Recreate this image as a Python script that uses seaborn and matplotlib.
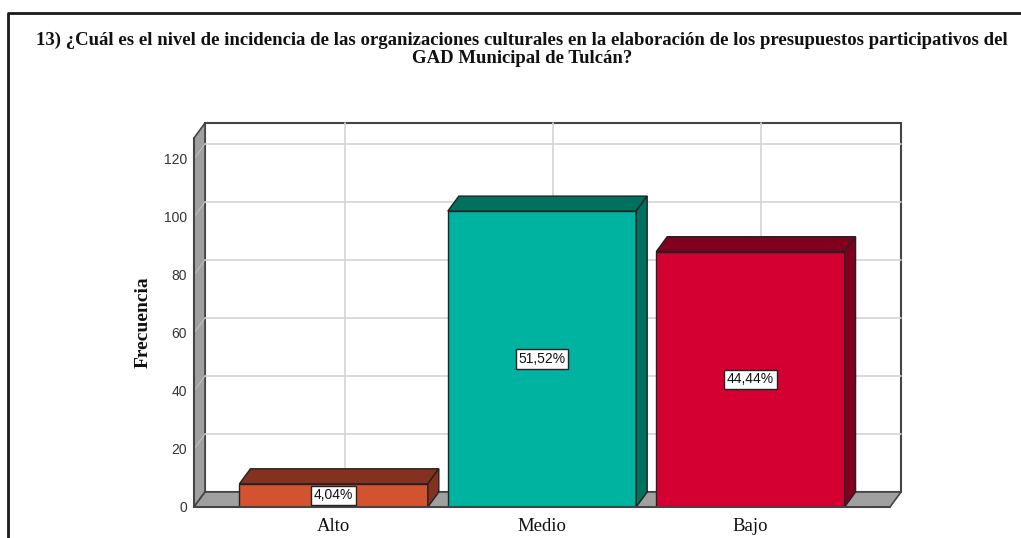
import matplotlib
matplotlib.use('Agg')
import matplotlib.pyplot as plt
import seaborn as sns
from matplotlib.patches import Polygon, Rectangle
from matplotlib.lines import Line2D

categorias = ['Alto', 'Medio', 'Bajo']
frecuencias = [8, 102, 88]
porcentajes = ['4,04%', '51,52%', '44,44%']
y_ticks = [0, 20, 40, 60, 80, 100, 120]

color_frente = ['#D35230', '#00B2A0', '#D50032']
color_techo = ['#843121', '#00705F', '#82001F']
titulo = ('13) ¿Cuál es el nivel de incidencia de las organizaciones culturales en la elaboración '
          'de los presupuestos participativos del\nGAD Municipal de Tulcán?')

sns.set_theme(style='white')
W, H = 1021, 538
fig = plt.figure(figsize=(W / 100, H / 100), dpi=100)
fig.patch.set_facecolor('white')

# front plane of the 3D box, in pixels: x 194..890, y 138..507
ax = fig.add_axes([194 / W, (H - 507) / H, 696 / W, 369 / H])
xmin, xmax = -0.67, 2.67
ymin, ymax = 0, 127.2
dx = 11 * (xmax - xmin) / 696
dy = 15 * (ymax - ymin) / 369

edge = '#444444'
gris = '#A0A0A0'

sns.barplot(x=categorias, y=frecuencias, hue=categorias, palette=color_frente, saturation=1,
            width=0.904, edgecolor='#222222', linewidth=1, legend=False, ax=ax, zorder=3)
barras = list(ax.patches)
ax.set_xlim(xmin, xmax)
ax.set_ylim(ymin, ymax)

# back wall, left wall, floor
ax.add_patch(Rectangle((xmin + dx, dy), xmax - xmin, ymax, facecolor='white',
                       edgecolor=edge, lw=1.5, clip_on=False, zorder=0.5))
ax.add_patch(Polygon([(xmin, 0), (xmin + dx, dy), (xmin + dx, ymax + dy), (xmin, ymax)],
                     closed=True, facecolor=gris, edgecolor=edge, lw=1.2, clip_on=False, zorder=0.6))
ax.add_patch(Polygon([(xmin, 0), (xmax, 0), (xmax + dx, dy), (xmin + dx, dy)],
                     closed=True, facecolor=gris, edgecolor=edge, lw=1.2, clip_on=False, zorder=0.6))

for t in y_ticks[1:]:
    ax.plot([xmin + dx, xmax + dx], [t + dy, t + dy], color='#D4D4D4', lw=1.2, zorder=0.7, clip_on=False)
    ax.plot([xmin, xmin + dx], [t, t + dy], color='#BDBDBD', lw=0.8, zorder=0.7, clip_on=False)
for i in range(len(categorias)):
    ax.plot([i + dx, i + dx], [dy, ymax + dy], color='#D4D4D4', lw=1.2, zorder=0.7, clip_on=False)

for i, p in enumerate(barras):
    x0 = p.get_x()
    x1 = x0 + p.get_width()
    h = p.get_height()
    ax.add_patch(Polygon([(x0, h), (x1, h), (x1 + dx, h + dy), (x0 + dx, h + dy)], closed=True,
                         facecolor=color_techo[i], edgecolor='#222222', lw=1, zorder=3.5, clip_on=False))
    ax.add_patch(Polygon([(x1, 0), (x1 + dx, dy), (x1 + dx, h + dy), (x1, h)], closed=True,
                         facecolor=color_techo[i], edgecolor='#222222', lw=1, zorder=3.5, clip_on=False))
    ax.text((x0 + x1) / 2, h / 2, porcentajes[i], ha='center', va='center', fontsize=10,
            family='Liberation Sans', color='#111111', zorder=6,
            bbox=dict(boxstyle='square,pad=0.2', fc='white', ec='#222222', lw=1))

# front edges
ax.plot([xmin, xmin], [0, ymax], color=edge, lw=1.5, zorder=0.8, clip_on=False)
ax.plot([xmin, xmax], [0, 0], color=edge, lw=1.5, zorder=4, clip_on=False)

for s in ax.spines.values():
    s.set_visible(False)
ax.set_yticks(y_ticks)
ax.set_yticklabels([str(t) for t in y_ticks], family='Liberation Sans', fontsize=10, color='#333333')
ax.set_xticks(range(len(categorias)))
ax.set_xticklabels(categorias, family='Liberation Serif', fontsize=13.5, color='#111111')
ax.tick_params(axis='y', length=0, pad=5)
ax.tick_params(axis='x', length=0, pad=8)
ax.set_xlabel('')
ax.set_ylabel('')
ax.grid(False)

fig.text(143 / W, (H - 322) / H, 'Frecuencia', rotation=90, ha='center', va='center',
         family='Liberation Serif', fontweight='bold', fontsize=14, color='#111111')
fig.text(522 / W, (H - 32) / H, titulo, ha='center', va='top', multialignment='center',
         family='Liberation Serif', fontweight='bold', fontsize=13.5, color='#111111', linespacing=1.02)

fig.add_artist(Line2D([8 / W, 8 / W, 1.0], [0.0, (H - 13) / H, (H - 13) / H],
                      transform=fig.transFigure, color='#1A1A1A', lw=2))

fig.savefig('out.png', dpi=100)
